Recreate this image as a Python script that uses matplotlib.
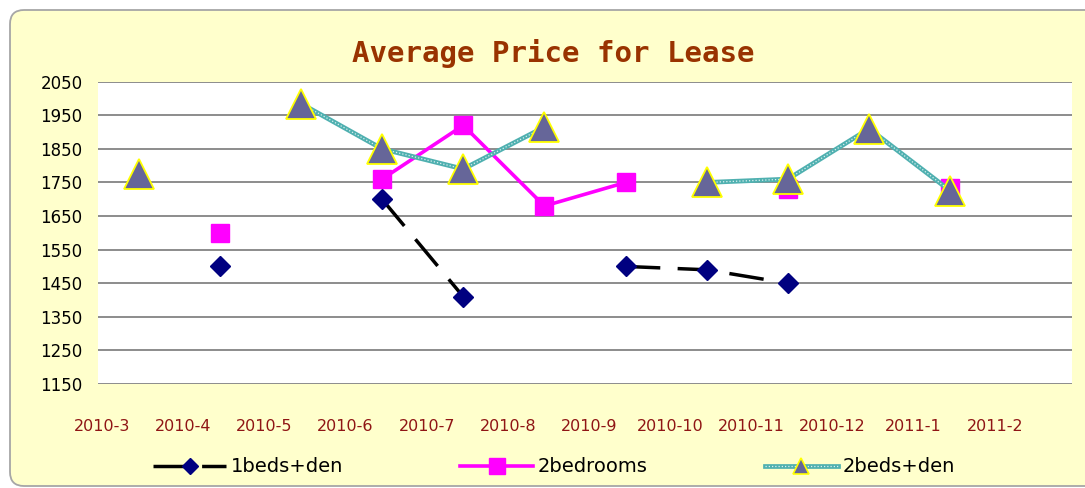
import numpy as np
import matplotlib
matplotlib.use("Agg")
import matplotlib.pyplot as plt
from matplotlib.patches import FancyBboxPatch
from matplotlib.lines import Line2D
from matplotlib.transforms import IdentityTransform

nan = np.nan
months = ['2010-3', '2010-4', '2010-5', '2010-6', '2010-7', '2010-8',
          '2010-9', '2010-10', '2010-11', '2010-12', '2011-1', '2011-2']
one_bed_den = [nan, 1500, nan, 1700, 1410, nan, 1500, 1490, 1450, nan, nan, nan]
two_bedrooms = [nan, 1600, nan, 1760, 1920, 1680, 1750, nan, 1730, nan, 1735, nan]
two_bed_den = [1775, nan, 1985, 1850, 1790, 1915, nan, 1750, 1760, 1910, 1725, nan]
y_ticks = [1150, 1250, 1350, 1450, 1550, 1650, 1750, 1850, 1950, 2050]

W, H = 1085, 488
fig = plt.figure(figsize=(W / 100, H / 100), dpi=100)
fig.patch.set_facecolor('white')

# chart area (rounded, pale yellow), drawn in pixel coords
box = FancyBboxPatch((10, 2), 1100, H - 12, boxstyle='round,pad=0,rounding_size=14',
                     transform=IdentityTransform(), facecolor='#FFFFCC',
                     edgecolor='#a6a6a6', linewidth=1.3, zorder=-5)
fig.patches.append(box)

ax = fig.add_axes([98 / W, 1 - 384 / H, (1072 - 98) / W, (384 - 81.7) / H])
ax.set_facecolor('white')
x = np.arange(len(months))

TEAL = '#4fb0b0'

ax.plot(x, one_bed_den, color='black', lw=2.5, dashes=(10, 5), zorder=3)
ax.plot(x, one_bed_den, ls='none', marker='D', ms=10.5, mfc='#000080', mec='#000080', zorder=4)
ax.plot(x, two_bedrooms, color='#FF00FF', lw=2.6, zorder=5)
ax.plot(x, two_bedrooms, ls='none', marker='s', ms=13.5, mfc='#FF00FF', mec='#FF00FF', zorder=6)
# patterned teal line: solid teal with fine white dots on top
ax.plot(x, two_bed_den, color=TEAL, lw=3.4, zorder=7)
ax.plot(x, two_bed_den, color='white', lw=0.9, dashes=(1, 1.6), alpha=0.8, zorder=7)
ax.plot(x, two_bed_den, ls='none', marker='^', ms=21, mfc='#666699', mec='#FFFF00',
        mew=1.3, zorder=8)

ax.set_xlim(-0.5, 11.5)
ax.set_ylim(1150, 2050)
ax.set_yticks(y_ticks)
ax.set_xticks(x - 0.45)
ax.set_xticklabels(months, color='#8f1515', fontsize=11.5)
ax.tick_params(axis='x', length=0, pad=25)
ax.tick_params(axis='y', length=0, pad=11, labelsize=12)
ax.grid(axis='y', color='#8c8c8c', lw=1.4)
ax.grid(axis='x', visible=False)
ax.set_axisbelow(True)
for s in ax.spines.values():
    s.set_visible(False)

fig.text(553 / W, 1 - 53 / H, 'Average Price for Lease', ha='center', va='center',
         fontsize=21, fontweight='bold', family='DejaVu Sans Mono', color='#993300')

h1 = Line2D([], [], color='black', lw=2.5, dashes=(10, 4), marker='D', ms=8.5,
            mfc='#000080', mec='#000080')
h2 = Line2D([], [], color='#FF00FF', lw=2.6, marker='s', ms=11.5, mfc='#FF00FF', mec='#FF00FF')
h3_line = Line2D([], [], color=TEAL, lw=3.4)
h3_dots = Line2D([], [], color='white', lw=0.9, dashes=(1, 1.6), alpha=0.8)
h3_mark = Line2D([], [], ls='none', marker='^', ms=11, mfc='#666699', mec='#FFFF00', mew=1.2)
fig.legend([h1, h2, (h3_line, h3_dots, h3_mark)], ['1beds+den', '2bedrooms', '2beds+den'],
           loc='center', bbox_to_anchor=(554 / W, 1 - 467 / H), ncol=3, frameon=False,
           fontsize=14, handlelength=3.75, handletextpad=0.26, columnspacing=6.0)

fig.savefig('out.png', dpi=100)
